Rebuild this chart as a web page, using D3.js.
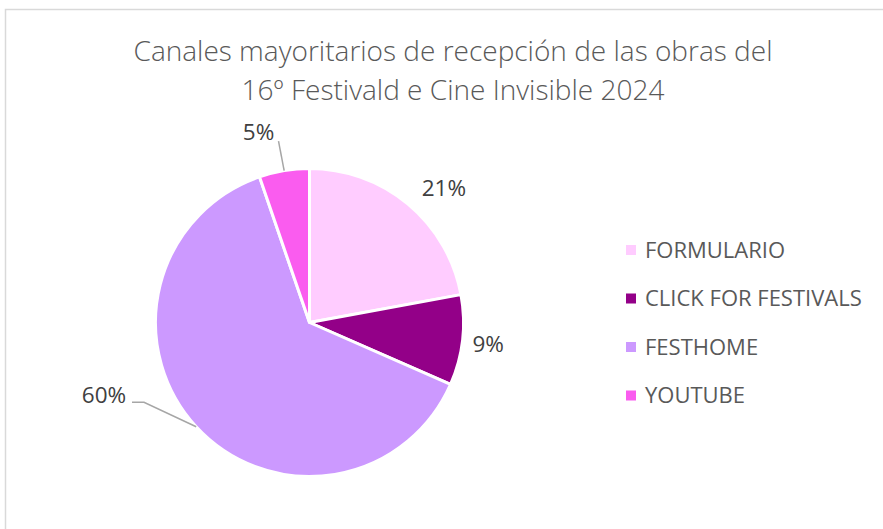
<!DOCTYPE html>
<html>
<head>
<meta charset="utf-8">
<script src="https://cdn.jsdelivr.net/npm/d3@7"></script>
<style>
  body { margin: 0; background: #fff; }
  svg { display: block; font-family: 'Open Sans', 'Liberation Sans', sans-serif; }
</style>
</head>
<body>
<svg class="chart"></svg>
<script>
const categories = ['FORMULARIO', 'CLICK FOR FESTIVALS', 'FESTHOME', 'YOUTUBE']
const values = [21, 9, 60, 5]
const colors = ['#FFCCFF', '#930088', '#CC99FF', '#FA5CEF']
const titleLines = ['Canales mayoritarios de recepción de las obras del', '16º Festivald e Cine Invisible 2024']

const width = 883
const height = 529
const cx = 309.5
const cy = 322.5
const radius = 154

// label placement: angle (deg, clockwise from top) and distance from center
const labelPlacement = {
    'FORMULARIO': { angle: 45, dist: 190 },
    'CLICK FOR FESTIVALS': { angle: 97, dist: 180 },
    'FESTHOME': { angle: 250.5, dist: 218, leader: true },
    'YOUTUBE': { angle: 345, dist: 197, leader: true }
}

const svg = d3.select('.chart').attr('width', width).attr('height', height)

// frame
svg.append('path')
    .attr('d', `M5.5,${height} V9.5 H${width}`)
    .attr('fill', 'none')
    .attr('stroke', '#D9D9D9')
    .attr('stroke-width', 1.5)

svg.append('g').selectAll('text')
        .data(titleLines)
    .enter().append('text')
        .text(d => d)
        .attr('x', 453)
        .attr('y', (d, i) => 61 + i * 38.5)
        .attr('text-anchor', 'middle')
        .attr('font-size', 28)
        .attr('font-weight', 300)
        .attr('fill', '#595959')

const pie = d3.pie().sort(null).value(d => d.value)
const data = pie(categories.map((c, i) => ({ name: c, value: values[i], color: colors[i] })))
const arc = d3.arc().innerRadius(0).outerRadius(radius)

const g = svg.append('g').attr('transform', `translate(${cx},${cy})`)

g.selectAll('path')
        .data(data)
    .enter().append('path')
        .attr('d', arc)
        .attr('fill', d => d.data.color)
        .attr('stroke', '#fff')
        .attr('stroke-width', 3)
        .attr('stroke-linejoin', 'round')

const polar = (deg, r) => {
    const a = deg * Math.PI / 180
    return [Math.sin(a) * r, -Math.cos(a) * r]
}

const labels = g.selectAll('g.lbl')
        .data(data)
    .enter().append('g')
        .attr('class', 'lbl')

labels.append('text')
    .text(d => `${d.data.value}%`)
    .attr('x', d => polar(labelPlacement[d.data.name].angle, labelPlacement[d.data.name].dist)[0])
    .attr('y', d => polar(labelPlacement[d.data.name].angle, labelPlacement[d.data.name].dist)[1])
    .attr('dy', '0.35em')
    .attr('text-anchor', 'middle')
    .attr('font-size', 22.5)
    .attr('fill', '#404040')

// leader lines
labels.filter(d => labelPlacement[d.data.name].leader)
    .append('polyline')
        .attr('fill', 'none')
        .attr('stroke', '#A6A6A6')
        .attr('stroke-width', 1.5)
        .attr('points', d => {
            const mid = (d.startAngle + d.endAngle) / 2 * 180 / Math.PI
            const p0 = polar(mid, radius)
            const lp = polar(labelPlacement[d.data.name].angle, labelPlacement[d.data.name].dist)
            if (d.data.name === 'FESTHOME') {
                return [p0, [lp[0] + 40, lp[1] + 7], [lp[0] + 28, lp[1] + 7]].join(' ')
            }
            return [p0, [lp[0] + 20, lp[1] + 9]].join(' ')
        })

// legend
const legend = svg.append('g').selectAll('g')
        .data(categories)
    .enter().append('g')
        .attr('transform', (d, i) => `translate(626,${250 + i * 48.5})`)

legend.append('rect')
    .attr('x', 0).attr('y', -5)
    .attr('width', 10).attr('height', 10)
    .attr('fill', (d, i) => colors[i])

legend.append('text')
    .text(d => d)
    .attr('x', 19)
    .attr('dy', '0.35em')
    .attr('font-size', 22)
    .attr('fill', '#595959')
</script>
</body>
</html>
